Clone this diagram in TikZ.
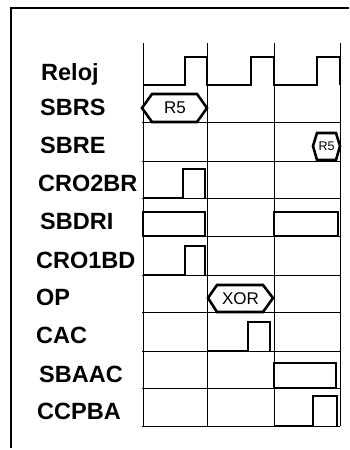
\documentclass[tikz,border=0pt]{standalone}
\usepackage{fontspec}
\setmainfont{Liberation Sans}
\begin{document}
\begin{tikzpicture}[x=1pt,y=-1pt,
  lbl/.style={anchor=base west,inner sep=0pt,font=\fontsize{23.5}{26}\selectfont\bfseries},
  frame/.style={line width=1.1pt},
  grid/.style={line width=1pt},
  sig/.style={line width=2.6pt,line join=miter},
  hexfont/.style={inner sep=0pt,font=\fontsize{17}{18}\selectfont},
  smallhex/.style={inner sep=0pt,font=\fontsize{12.5}{13}\selectfont}]
\useasboundingbox (0,0) rectangle (349,450);
% frame
\draw[frame] (11,448) -- (11,8) -- (349,8);
% labels
\node[lbl] (l1) at (41,80) {Reloj};
\node[lbl] (l2) at (40,115) {SBRS};
\node[lbl] (l3) at (40,153) {SBRE};
\node[lbl] (l4) at (38,191) {CRO2BR};
\node[lbl] (l5) at (40,229) {SBDRI};
\node[lbl] (l6) at (36,268) {CRO1BD};
\node[lbl] (l7) at (36,305) {OP};
\node[lbl] (l8) at (36,343) {CAC};
\node[lbl] (l9) at (39,382) {SBAAC};
\node[lbl] (l10) at (37,419) {CCPBA};
% grid
\foreach \x in {143,207,274,340} \draw[grid] (\x,43) -- (\x,426);
\foreach \y in {122,161,198,236,275,312,351,388,426} \draw[grid] (142,\y) -- (340,\y);
% Reloj
\draw[sig] (143,85) -- (185,85) -- (185,57) -- (207,57) -- (207,85) -- (251,85) -- (251,57)
  -- (274,57) -- (274,85) -- (317,85) -- (317,57) -- (340,57) -- (340,85);
% SBRS
\draw[sig] (142,108) -- (152,94) -- (197,94) -- (207,108) -- (197,122) -- (152,122) -- cycle;
\node[hexfont] (r5a) at (175,108) {R5};
% SBRE
\draw[sig] (313,146) -- (317,133) -- (336,133) -- (340,146) -- (336,160) -- (317,160) -- cycle;
\node[smallhex] (r5b) at (326.5,146.5) {R5};
% CRO2BR
\draw[sig] (143,198) -- (183,198) -- (183,169) -- (205,169) -- (205,198);
% SBDRI
\draw[sig] (143,212) rectangle (205,236);
\draw[sig] (274,212) rectangle (338,236);
% CRO1BD
\draw[sig] (143,275) -- (185,275) -- (185,246) -- (205,246) -- (205,275);
% OP
\draw[sig] (208,298) -- (217,285) -- (263,285) -- (273,298) -- (263,312) -- (217,312) -- cycle;
\node[hexfont] (xor) at (240.5,298.5) {XOR};
% CAC
\draw[sig] (207,351) -- (248,351) -- (248,322) -- (270,322) -- (270,351);
% SBAAC
\draw[sig] (274,388) -- (274,363) -- (336,363) -- (336,388) -- cycle;
% CCPBA
\draw[sig] (274,426) -- (313,426) -- (313,396) -- (337,396) -- (337,426);
\end{tikzpicture}
\end{document}
